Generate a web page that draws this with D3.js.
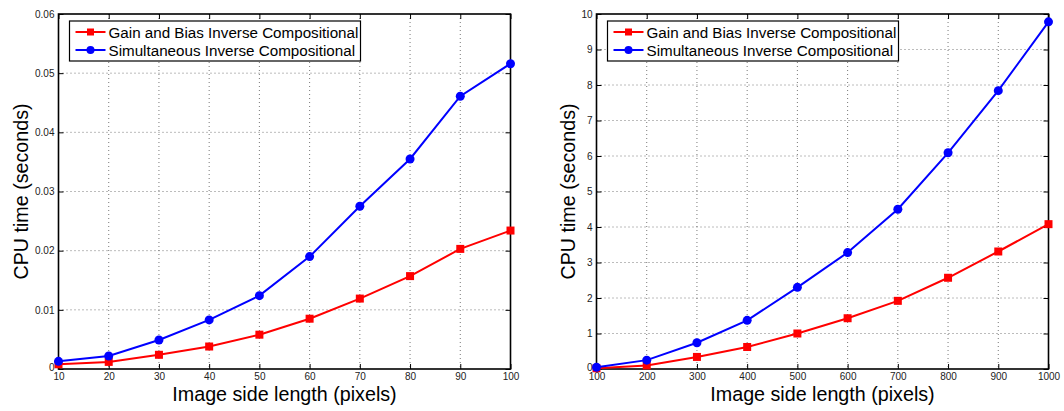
<!DOCTYPE html>
<html>
<head>
<meta charset="utf-8">
<script src="https://cdn.jsdelivr.net/npm/d3@7"></script>
<style>
  body { margin: 0; background: #fff; }
  svg { font-family: "Liberation Sans", Arial, sans-serif; }
  .grid line { stroke: #555; stroke-dasharray: 1,3; stroke-width: 0.8; }
  .tick text { fill: #222; }
</style>
</head>
<body>
<div id="chart"></div>
<script>
// Data
const seriesNames = ["Gain and Bias Inverse Compositional", "Simultaneous Inverse Compositional"];
const seriesColors = ["#ff0000", "#0000ff"];

const xSmall = [10, 20, 30, 40, 50, 60, 70, 80, 90, 100];
const gainSmall = [0.0008, 0.0012, 0.0024, 0.0038, 0.0058, 0.0085, 0.0119, 0.0157, 0.0203, 0.0234];
const simSmall = [0.0013, 0.0022, 0.0049, 0.0083, 0.0124, 0.019, 0.0275, 0.0355, 0.0461, 0.0516];
const yTicksSmall = [0, 0.01, 0.02, 0.03, 0.04, 0.05, 0.06];

const xLarge = [100, 200, 300, 400, 500, 600, 700, 800, 900, 1000];
const gainLarge = [0.02, 0.1, 0.34, 0.62, 1.0, 1.43, 1.92, 2.57, 3.31, 4.08];
const simLarge = [0.05, 0.25, 0.74, 1.37, 2.3, 3.28, 4.5, 6.09, 7.84, 9.78];
const yTicksLarge = [0, 1, 2, 3, 4, 5, 6, 7, 8, 9, 10];

const W = 1064, H = 411;
const svg = d3.select("#chart").append("svg").attr("width", W).attr("height", H);

function drawPanel(opts) {
  const { left, right, top, bottom, xs, ys, xDomain, yDomain, yTicks, yFmt } = opts;
  const x = d3.scaleLinear().domain(xDomain).range([left, right]);
  const y = d3.scaleLinear().domain(yDomain).range([bottom, top]);
  const g = svg.append("g");

  // grid
  const grid = g.append("g").attr("class", "grid");
  grid.selectAll(".gx").data(xs.slice(1, -1)).enter().append("line")
    .attr("x1", d => x(d)).attr("x2", d => x(d)).attr("y1", top).attr("y2", bottom);
  grid.selectAll(".gy").data(yTicks.slice(1, -1)).enter().append("line")
    .attr("x1", left).attr("x2", right).attr("y1", d => y(d)).attr("y2", d => y(d));

  // axes, ticks pointing inward like matlab
  const tk = 5;
  g.append("g").attr("transform", `translate(0,${bottom})`)
    .call(d3.axisBottom(x).tickValues(xs).tickFormat(d3.format("d")).tickSizeInner(-tk).tickSizeOuter(0).tickPadding(4))
    .call(a => a.select(".domain").remove())
    .call(a => a.selectAll("text").style("font-size", "10px"));
  g.append("g").attr("transform", `translate(0,${top})`)
    .call(d3.axisTop(x).tickValues(xs).tickSizeInner(-tk).tickSizeOuter(0).tickFormat(""))
    .call(a => a.select(".domain").remove());
  g.append("g").attr("transform", `translate(${left},0)`)
    .call(d3.axisLeft(y).tickValues(yTicks).tickFormat(yFmt).tickSizeInner(-tk).tickSizeOuter(0).tickPadding(4))
    .call(a => a.select(".domain").remove())
    .call(a => a.selectAll("text").style("font-size", "10px"))
    .call(a => a.selectAll(".tick text").filter(d => d === 0).attr("dy", "0.1em"));
  g.append("g").attr("transform", `translate(${right},0)`)
    .call(d3.axisRight(y).tickValues(yTicks).tickSizeInner(-tk).tickSizeOuter(0).tickFormat(""))
    .call(a => a.select(".domain").remove());

  g.append("rect").attr("x", left).attr("y", top)
    .attr("width", right - left).attr("height", bottom - top)
    .attr("fill", "none").attr("stroke", "#000").attr("stroke-width", 1.6);

  // lines + markers
  const line = d3.line().x(d => x(d[0])).y(d => y(d[1]));
  ys.forEach((vals, i) => {
    const pts = xs.map((v, j) => [v, vals[j]]);
    g.append("path").datum(pts).attr("d", line)
      .attr("fill", "none").attr("stroke", seriesColors[i]).attr("stroke-width", 2);
    if (i === 0) {
      g.selectAll(null).data(pts).enter().append("rect")
        .attr("x", d => x(d[0]) - 4).attr("y", d => y(d[1]) - 4)
        .attr("width", 8).attr("height", 8).attr("fill", seriesColors[i]);
    } else {
      g.selectAll(null).data(pts).enter().append("circle")
        .attr("cx", d => x(d[0])).attr("cy", d => y(d[1])).attr("r", 4.5)
        .attr("fill", seriesColors[i]);
    }
  });

  // legend
  const lx = left + 11, ly = top + 7, lw = opts.legendW, lh = 40;
  g.append("rect").attr("x", lx).attr("y", ly).attr("width", lw).attr("height", lh)
    .attr("fill", "#fff").attr("stroke", "#000").attr("stroke-width", 1.2);
  seriesNames.forEach((name, i) => {
    const cy = ly + 11 + i * 18;
    g.append("line").attr("x1", lx + 6).attr("x2", lx + 36).attr("y1", cy).attr("y2", cy)
      .attr("stroke", seriesColors[i]).attr("stroke-width", 2);
    if (i === 0) {
      g.append("rect").attr("x", lx + 21 - 3.5).attr("y", cy - 3.5).attr("width", 7).attr("height", 7)
        .attr("fill", seriesColors[i]);
    } else {
      g.append("circle").attr("cx", lx + 21).attr("cy", cy).attr("r", 4).attr("fill", seriesColors[i]);
    }
    g.append("text").attr("x", lx + 39).attr("y", cy + 5.5).style("font-size", "15.2px").text(name);
  });

  // axis titles
  g.append("text").attr("x", (left + right) / 2).attr("y", bottom + 32)
    .attr("text-anchor", "middle").style("font-size", "19.7px").text("Image side length (pixels)");
  g.append("text").attr("transform", `translate(${left - opts.yTitleGap},${(top + bottom) / 2}) rotate(-90)`)
    .attr("text-anchor", "middle").style("font-size", "19.7px").text("CPU time (seconds)");
}

drawPanel({
  left: 58.5, right: 510.5, top: 14, bottom: 369,
  xs: xSmall, ys: [gainSmall, simSmall], xDomain: [10, 100], yDomain: [0, 0.06],
  yTicks: yTicksSmall, yFmt: d => d === 0 ? "0" : d3.format(".2f")(d),
  legendW: 291, yTitleGap: 30.5
});

drawPanel({
  left: 596.5, right: 1048.5, top: 14, bottom: 369,
  xs: xLarge, ys: [gainLarge, simLarge], xDomain: [100, 1000], yDomain: [0, 10],
  yTicks: yTicksLarge, yFmt: d3.format("d"),
  legendW: 291, yTitleGap: 21.5
});
</script>
</body>
</html>
